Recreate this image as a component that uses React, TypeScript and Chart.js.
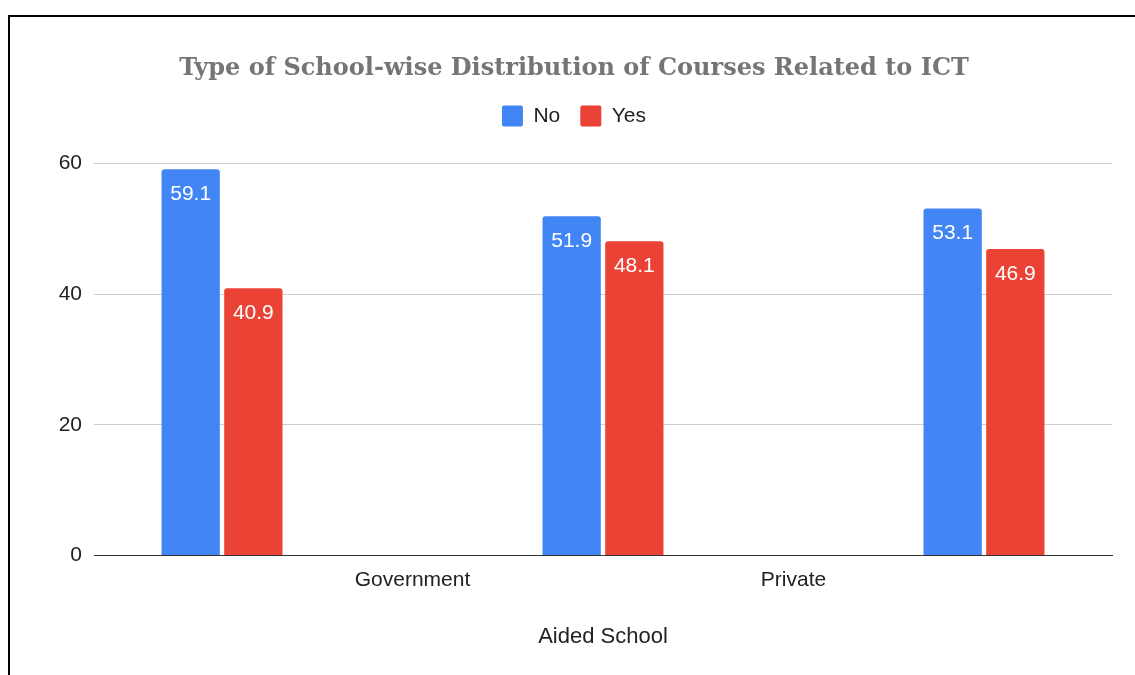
import React, { useEffect, useRef } from 'react';
import { Chart, registerables } from 'chart.js';

Chart.register(...registerables);

const chartTitle = 'Type of School-wise Distribution of Courses Related to ICT';
const xAxisTitle = 'Aided School';
const seriesNames = ['No', 'Yes'];
const groupPositions = [1, 2, 3];
const noValues = [59.1, 51.9, 53.1];
const yesValues = [40.9, 48.1, 46.9];
const tickPositions = [1.5, 2.5];
const tickLabels = ['Government', 'Private'];
const yTickValues = [0, 20, 40, 60];
const seriesColors = ['#4285F4', '#EA4335'];

const SANS = '"Liberation Sans", Arial, sans-serif';

const legendMargin = {
  id: 'legendMargin',
  beforeInit(chart: any) {
    const legend = chart.legend;
    if (!legend) return;
    const origFit = legend.fit;
    legend.fit = function fit() {
      origFit.call(this);
      this.height += 27;
    };
  },
};

const barLabels = {
  id: 'barLabels',
  afterDatasetsDraw(chart: any) {
    const ctx = chart.ctx;
    ctx.save();
    ctx.font = `21px ${SANS}`;
    ctx.fillStyle = '#ffffff';
    ctx.textAlign = 'center';
    ctx.textBaseline = 'middle';
    chart.data.datasets.forEach((ds: any, i: number) => {
      const meta = chart.getDatasetMeta(i);
      meta.data.forEach((bar: any, j: number) => {
        const v = ds.data[j].y;
        ctx.fillText(v.toFixed(1), bar.x, bar.y + 25);
      });
    });
    ctx.restore();
  },
};

export default function App() {
  const canvasRef = useRef<HTMLCanvasElement | null>(null);

  useEffect(() => {
    if (!canvasRef.current) return;
    const seriesValues = [noValues, yesValues];
    const chart = new Chart(canvasRef.current, {
      type: 'bar',
      data: {
        datasets: seriesNames.map((name, si) => ({
          label: name,
          data: groupPositions.map((x, i) => ({ x, y: seriesValues[si][i] })),
          backgroundColor: seriesColors[si],
          borderRadius: { topLeft: 3, topRight: 3, bottomLeft: 0, bottomRight: 0 },
          borderSkipped: 'start',
          categoryPercentage: 0.329,
          barPercentage: 0.93,
        })),
      },
      options: {
        animation: false,
        responsive: true,
        maintainAspectRatio: false,
        layout: { padding: { left: 26, right: 23, top: 0, bottom: 0 } },
        plugins: {
          title: {
            display: true,
            text: chartTitle,
            color: '#757575',
            font: { family: '"DejaVu Serif", Georgia, serif', size: 24, weight: 'bold' },
            padding: { top: 37, bottom: 2.6 },
          },
          legend: {
            display: true,
            position: 'top',
            labels: {
              boxWidth: 21,
              boxHeight: 21,
              padding: 20,
              color: '#222222',
              font: { family: SANS, size: 21 },
              useBorderRadius: true,
              borderRadius: 2,
            },
          },
          tooltip: { enabled: false },
        },
        scales: {
          x: {
            type: 'linear',
            min: 0.664,
            max: 3.336,
            offset: false,
            grid: { display: false, drawTicks: false },
            border: { display: true, color: '#333333', width: 1 },
            afterBuildTicks: (scale: any) => {
              scale.ticks = tickPositions.map((value) => ({ value }));
            },
            afterFit: (scale: any) => {
              scale.height = 119.5;
            },
            ticks: {
              autoSkip: false,
              maxRotation: 0,
              minRotation: 0,
              padding: 12,
              color: '#222222',
              font: { family: SANS, size: 21 },
              callback: (value: any) => {
                const idx = tickPositions.indexOf(Number(value));
                return idx >= 0 ? tickLabels[idx] : '';
              },
            },
            title: {
              display: true,
              text: xAxisTitle,
              color: '#222222',
              font: { family: SANS, size: 22 },
              padding: { top: 0, bottom: 25 },
            },
          },
          y: {
            min: 0,
            max: 60,
            afterBuildTicks: (scale: any) => {
              scale.ticks = yTickValues.map((value) => ({ value }));
            },
            afterFit: (scale: any) => {
              scale.width = 58;
            },
            grid: { color: '#cccccc', lineWidth: 1, drawTicks: false },
            border: { display: false },
            ticks: {
              padding: 12,
              color: '#222222',
              font: { family: SANS, size: 21 },
            },
          },
        },
      } as any,
      plugins: [legendMargin, barLabels],
    });
    return () => chart.destroy();
  }, []);

  return (
    <div
      style={{
        position: 'fixed',
        top: 15,
        left: 8,
        right: 0,
        bottom: 0,
        borderTop: '2px solid #000',
        borderLeft: '2px solid #000',
        boxSizing: 'border-box',
        background: '#fff',
      }}
    >
      <div style={{ position: 'relative', width: '100%', height: '100%' }}>
        <canvas ref={canvasRef} />
      </div>
    </div>
  );
}
